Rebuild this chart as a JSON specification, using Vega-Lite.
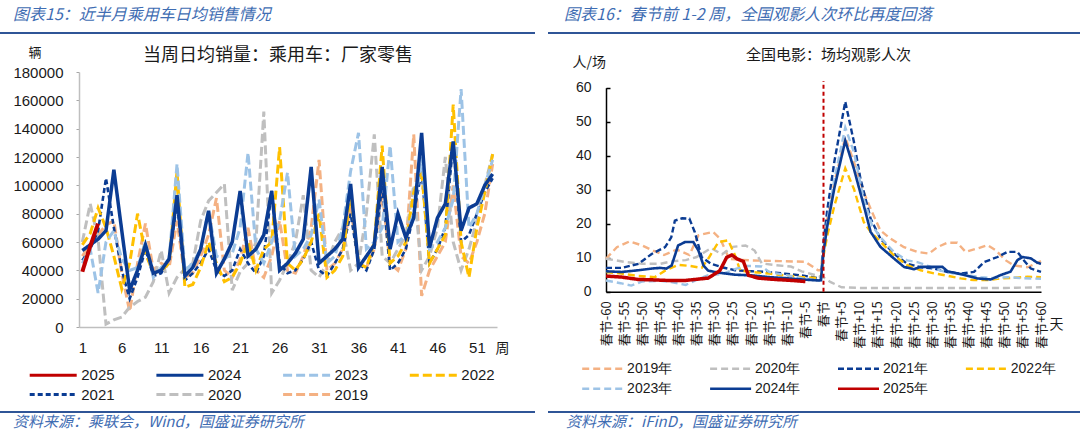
{
  "$schema": "https://vega.github.io/schema/vega-lite/v6.json",
  "background": "#ffffff",
  "padding": {"left": 0, "right": 0, "top": 7, "bottom": 0},
  "config": {
    "view": {"stroke": null},
    "font": "Noto Sans CJK SC",
    "title": {"fontWeight": "normal"},
    "axis": {"grid": false}
  },
  "spacing": 7,
  "resolve": {"scale": {"color": "independent", "strokeDash": "independent"}},
  "vconcat": [
    {
      "spacing": 12,
      "resolve": {"scale": {"color": "independent", "strokeDash": "independent"}},
      "vconcat": [
        {
          "spacing": 13,
          "hconcat": [
            {
              "width": 535, "height": 2,
              "data": {"values": [{"part": "header"}]},
              "mark": {"type": "rect", "color": "#2F5597"},
              "title": {"text": "图表15：近半月乘用车日均销售情况", "anchor": "start", "dx": 13, "offset": 9, "fontSize": 16, "fontStyle": "italic", "color": "#3F6DB3"}
            },
            {
              "width": 532, "height": 2,
              "data": {"values": [{"part": "header"}]},
              "mark": {"type": "rect", "color": "#2F5597"},
              "title": {"text": "图表16：春节前 1-2 周，全国观影人次环比再度回落", "anchor": "start", "dx": 16, "offset": 9, "fontSize": 16, "fontStyle": "italic", "color": "#3F6DB3"}
            }
          ]
        },
        {
          "spacing": 11,
          "resolve": {"scale": {"color": "independent", "strokeDash": "independent"}},
          "hconcat": [
            {
              "width": 1, "height": 1,
              "data": {"values": []},
              "mark": {"type": "rect"}
            },
            {
              "spacing": 63,
              "resolve": {"scale": {"color": "independent", "strokeDash": "independent"}},
              "hconcat": [
                {
                  "width": 418, "height": 255,
                  "title": {"text": "当周日均销量：乘用车：厂家零售", "fontSize": 18, "color": "#1A1A1A", "anchor": "middle", "dx": -10, "offset": -19},
                  "data": {"values": [
                    {"week": 1, "2019": 50000, "2020": 60000, "2021": 47000, "2022": 58000, "2023": 45000, "2024": 54000, "2025": 39000},
                    {"week": 2, "2019": 58000, "2020": 87000, "2021": 55000, "2022": 66000, "2023": 55000, "2024": 58000, "2025": 57000},
                    {"week": 3, "2019": 65000, "2020": 62000, "2021": 68000, "2022": 84000, "2023": 24000, "2024": 62000, "2025": 73000},
                    {"week": 4, "2019": 72000, "2020": 2000, "2021": 105000, "2022": 70000, "2023": 60000, "2024": 68000},
                    {"week": 5, "2019": 75000, "2020": 5000, "2021": 70000, "2022": 50000, "2023": 68000, "2024": 111000},
                    {"week": 6, "2019": 38000, "2020": 7000, "2021": 40000, "2022": 27000, "2023": 48000, "2024": 68000},
                    {"week": 7, "2019": 11000, "2020": 14000, "2021": 20000, "2022": 45000, "2023": 40000, "2024": 26000},
                    {"week": 8, "2019": 45000, "2020": 18000, "2021": 35000, "2022": 80000, "2023": 42000, "2024": 40000},
                    {"week": 9, "2019": 73000, "2020": 21000, "2021": 55000, "2022": 52000, "2023": 60000, "2024": 58000},
                    {"week": 10, "2019": 40000, "2020": 32000, "2021": 36000, "2022": 38000, "2023": 35000, "2024": 38000},
                    {"week": 11, "2019": 45000, "2020": 54000, "2021": 38000, "2022": 40000, "2023": 42000, "2024": 40000},
                    {"week": 12, "2019": 42000, "2020": 24000, "2021": 48000, "2022": 45000, "2023": 48000, "2024": 48000},
                    {"week": 13, "2019": 75000, "2020": 35000, "2021": 88000, "2022": 110000, "2023": 115000, "2024": 93000},
                    {"week": 14, "2019": 35000, "2020": 41000, "2021": 33000, "2022": 28000, "2023": 40000, "2024": 36000},
                    {"week": 15, "2019": 38000, "2020": 45000, "2021": 38000, "2022": 30000, "2023": 45000, "2024": 42000},
                    {"week": 16, "2019": 50000, "2020": 75000, "2021": 45000, "2022": 42000, "2023": 55000, "2024": 55000},
                    {"week": 17, "2019": 65000, "2020": 89000, "2021": 55000, "2022": 60000, "2023": 82000, "2024": 82000},
                    {"week": 18, "2019": 91000, "2020": 95000, "2021": 40000, "2022": 45000, "2023": 50000, "2024": 38000},
                    {"week": 19, "2019": 40000, "2020": 101000, "2021": 36000, "2022": 32000, "2023": 48000, "2024": 48000},
                    {"week": 20, "2019": 35000, "2020": 26000, "2021": 40000, "2022": 35000, "2023": 52000, "2024": 60000},
                    {"week": 21, "2019": 48000, "2020": 39000, "2021": 55000, "2022": 45000, "2023": 70000, "2024": 96000},
                    {"week": 22, "2019": 70000, "2020": 45000, "2021": 45000, "2022": 60000, "2023": 123000, "2024": 50000},
                    {"week": 23, "2019": 40000, "2020": 60000, "2021": 38000, "2022": 40000, "2023": 55000, "2024": 55000},
                    {"week": 24, "2019": 35000, "2020": 152000, "2021": 50000, "2022": 55000, "2023": 45000, "2024": 65000},
                    {"week": 25, "2019": 50000, "2020": 24000, "2021": 96000, "2022": 60000, "2023": 60000, "2024": 96000},
                    {"week": 26, "2019": 75000, "2020": 33000, "2021": 45000, "2022": 127000, "2023": 75000, "2024": 40000},
                    {"week": 27, "2019": 40000, "2020": 45000, "2021": 38000, "2022": 45000, "2023": 109000, "2024": 45000},
                    {"week": 28, "2019": 38000, "2020": 60000, "2021": 40000, "2022": 40000, "2023": 50000, "2024": 52000},
                    {"week": 29, "2019": 50000, "2020": 93000, "2021": 48000, "2022": 48000, "2023": 55000, "2024": 62000},
                    {"week": 30, "2019": 70000, "2020": 40000, "2021": 60000, "2022": 60000, "2023": 65000, "2024": 113000},
                    {"week": 31, "2019": 118000, "2020": 35000, "2021": 40000, "2022": 80000, "2023": 90000, "2024": 45000},
                    {"week": 32, "2019": 40000, "2020": 45000, "2021": 36000, "2022": 35000, "2023": 45000, "2024": 50000},
                    {"week": 33, "2019": 45000, "2020": 60000, "2021": 45000, "2022": 40000, "2023": 50000, "2024": 55000},
                    {"week": 34, "2019": 55000, "2020": 70000, "2021": 55000, "2022": 50000, "2023": 70000, "2024": 62000},
                    {"week": 35, "2019": 85000, "2020": 40000, "2021": 80000, "2022": 95000, "2023": 110000, "2024": 101000},
                    {"week": 36, "2019": 45000, "2020": 45000, "2021": 45000, "2022": 45000, "2023": 137000, "2024": 42000},
                    {"week": 37, "2019": 42000, "2020": 80000, "2021": 40000, "2022": 42000, "2023": 55000, "2024": 50000},
                    {"week": 38, "2019": 55000, "2020": 136000, "2021": 55000, "2022": 60000, "2023": 60000, "2024": 58000},
                    {"week": 39, "2019": 95000, "2020": 50000, "2021": 100000, "2022": 128000, "2023": 70000, "2024": 113000},
                    {"week": 40, "2019": 45000, "2020": 45000, "2021": 40000, "2022": 45000, "2023": 128000, "2024": 55000},
                    {"week": 41, "2019": 40000, "2020": 55000, "2021": 45000, "2022": 50000, "2023": 60000, "2024": 80000},
                    {"week": 42, "2019": 55000, "2020": 65000, "2021": 55000, "2022": 60000, "2023": 65000, "2024": 63000},
                    {"week": 43, "2019": 136000, "2020": 100000, "2021": 80000, "2022": 95000, "2023": 80000, "2024": 77000},
                    {"week": 44, "2019": 22000, "2020": 40000, "2021": 110000, "2022": 110000, "2023": 120000, "2024": 137000},
                    {"week": 45, "2019": 40000, "2020": 50000, "2021": 45000, "2022": 45000, "2023": 55000, "2024": 56000},
                    {"week": 46, "2019": 50000, "2020": 70000, "2021": 55000, "2022": 55000, "2023": 60000, "2024": 77000},
                    {"week": 47, "2019": 60000, "2020": 120000, "2021": 70000, "2022": 65000, "2023": 70000, "2024": 87000},
                    {"week": 48, "2019": 100000, "2020": 60000, "2021": 130000, "2022": 157000, "2023": 90000, "2024": 131000},
                    {"week": 49, "2019": 50000, "2020": 40000, "2021": 60000, "2022": 60000, "2023": 168000, "2024": 68000},
                    {"week": 50, "2019": 45000, "2020": 55000, "2021": 65000, "2022": 35000, "2023": 70000, "2024": 84000},
                    {"week": 51, "2019": 60000, "2020": 75000, "2021": 80000, "2022": 70000, "2023": 80000, "2024": 87000},
                    {"week": 52, "2019": 80000, "2020": 100000, "2021": 95000, "2022": 95000, "2023": 100000, "2024": 100000},
                    {"week": 53, "2019": 115000, "2020": 122000, "2021": 105000, "2022": 122000, "2023": 118000, "2024": 108000}
                  ]},
                  "transform": [
                    {"fold": ["2019", "2020", "2021", "2022", "2023", "2024", "2025"], "as": ["year", "sales"]},
                    {"filter": "isValid(datum.sales)"}
                  ],
                  "mark": {"type": "line"},
                  "encoding": {
                    "x": {
                      "field": "week", "type": "quantitative",
                      "scale": {"domain": [0.58, 53.55], "nice": false, "zero": false},
                      "axis": {
                        "values": [1, 6, 11, 16, 21, 26, 31, 36, 41, 46, 51],
                        "ticks": false, "domainColor": "#BFBFBF", "domainWidth": 1.5,
                        "labelFont": "Liberation Sans", "labelFontSize": 15, "labelColor": "#1A1A1A",
                        "labelPadding": 13, "labelFlush": false, "labelOverlap": false,
                        "title": "周", "titleFontSize": 14, "titleFontWeight": "normal", "titleColor": "#1A1A1A",
                        "titleAngle": 0, "titleAlign": "center", "titleBaseline": "middle", "titleX": 423, "titleY": 21
                      }
                    },
                    "y": {
                      "field": "sales", "type": "quantitative",
                      "scale": {"domain": [0, 180000], "nice": false},
                      "axis": {
                        "values": [0, 20000, 40000, 60000, 80000, 100000, 120000, 140000, 160000, 180000],
                        "format": "d", "tickSize": 3, "tickColor": "#A6A6A6",
                        "domainColor": "#BFBFBF", "domainWidth": 1.5,
                        "labelFont": "Liberation Sans", "labelFontSize": 15, "labelColor": "#1A1A1A",
                        "labelPadding": 13, "labelFlush": false, "labelOverlap": false,
                        "title": "辆", "titleFontSize": 13, "titleFontWeight": "normal", "titleColor": "#1A1A1A",
                        "titleAngle": 0, "titleAlign": "left", "titleBaseline": "middle", "titleX": -51, "titleY": -20
                      }
                    },
                    "color": {
                      "field": "year", "type": "nominal",
                      "scale": {
                        "domain": ["2025", "2024", "2023", "2022", "2021", "2020", "2019"],
                        "range": ["#C00000", "#0B3C93", "#9DC3E6", "#FFC000", "#0B3C93", "#BFBFBF", "#F4B183"]
                      },
                      "legend": {
                        "orient": "none", "legendX": -33.3, "legendY": 295.5, "direction": "horizontal", "columns": 4,
                        "title": null, "symbolType": "M-4.7,0H4.7", "symbolSize": 100, "symbolStrokeWidth": 3,
                        "labelFont": "Liberation Sans", "labelFontSize": 15, "labelColor": "#1A1A1A", "labelOffset": 20.5,
                        "columnPadding": 35.7, "rowPadding": 3.6, "gridAlign": "all", "padding": 0
                      }
                    },
                    "strokeDash": {
                      "field": "year", "type": "nominal",
                      "scale": {
                        "domain": ["2025", "2024", "2023", "2022", "2021", "2020", "2019"],
                        "range": [[1, 0], [1, 0], [9, 4], [9, 4], [5, 3], [9, 4], [9, 4]]
                      }
                    },
                    "strokeWidth": {
                      "condition": [
                        {"test": "datum.year == '2025'", "value": 4},
                        {"test": "datum.year == '2024'", "value": 3.5},
                        {"test": "datum.year == '2021'", "value": 2.6}
                      ],
                      "value": 3
                    }
                  }
                },
                {
                  "width": 435, "height": 219.7,
                  "title": {"text": "全国电影：场均观影人次", "fontSize": 15, "color": "#1A1A1A", "anchor": "middle", "dx": 5, "offset": -7},
                  "resolve": {"axis": {"x": "independent", "y": "independent"}},
                  "layer": [
                    {
                      "data": {"values": [
                        {"s": "2019年", "d": -60, "v": 9.7}, {"s": "2019年", "d": -57, "v": 13.1}, {"s": "2019年", "d": -53.5, "v": 14.8}, {"s": "2019年", "d": -50, "v": 13.6},
                        {"s": "2019年", "d": -47, "v": 12.1}, {"s": "2019年", "d": -44, "v": 10.8}, {"s": "2019年", "d": -40.5, "v": 12.4}, {"s": "2019年", "d": -37, "v": 10.8},
                        {"s": "2019年", "d": -34.5, "v": 16.6}, {"s": "2019年", "d": -30.5, "v": 17.6}, {"s": "2019年", "d": -28.5, "v": 15.6}, {"s": "2019年", "d": -26, "v": 9.6},
                        {"s": "2019年", "d": -20, "v": 9.2}, {"s": "2019年", "d": -12, "v": 9.0}, {"s": "2019年", "d": -5, "v": 8.8}, {"s": "2019年", "d": -1.5, "v": 6.3},
                        {"s": "2019年", "d": -0.7, "v": 6.3}, {"s": "2019年", "d": 0, "v": 14.1}, {"s": "2019年", "d": 1, "v": 21.2}, {"s": "2019年", "d": 3, "v": 32.1},
                        {"s": "2019年", "d": 6, "v": 45.4}, {"s": "2019年", "d": 8.4, "v": 38.1}, {"s": "2019年", "d": 11.1, "v": 29.3}, {"s": "2019年", "d": 13.4, "v": 23.4},
                        {"s": "2019年", "d": 15.7, "v": 18.0}, {"s": "2019年", "d": 18.5, "v": 15.6}, {"s": "2019年", "d": 22.2, "v": 13.1}, {"s": "2019年", "d": 25.9, "v": 11.7},
                        {"s": "2019年", "d": 29.1, "v": 11.2}, {"s": "2019年", "d": 31.4, "v": 13.1}, {"s": "2019年", "d": 34.2, "v": 14.4}, {"s": "2019年", "d": 36.9, "v": 14.4},
                        {"s": "2019年", "d": 39.2, "v": 11.7}, {"s": "2019年", "d": 42.4, "v": 12.7}, {"s": "2019年", "d": 45.2, "v": 13.7}, {"s": "2019年", "d": 47.5, "v": 12.2},
                        {"s": "2019年", "d": 50.3, "v": 9.2}, {"s": "2019年", "d": 52.6, "v": 7.7}, {"s": "2019年", "d": 56.3, "v": 7.2}, {"s": "2019年", "d": 60, "v": 9.0},

                        {"s": "2020年", "d": -60, "v": 9.7}, {"s": "2020年", "d": -55, "v": 8.8}, {"s": "2020年", "d": -50, "v": 8.2}, {"s": "2020年", "d": -45, "v": 8.2},
                        {"s": "2020年", "d": -42, "v": 8.9}, {"s": "2020年", "d": -38, "v": 9.3}, {"s": "2020年", "d": -35, "v": 10.2}, {"s": "2020年", "d": -31, "v": 12.8},
                        {"s": "2020年", "d": -28, "v": 11.0}, {"s": "2020年", "d": -25, "v": 13.2}, {"s": "2020年", "d": -21.5, "v": 13.6}, {"s": "2020年", "d": -19, "v": 12.1},
                        {"s": "2020年", "d": -17, "v": 8.3}, {"s": "2020年", "d": -13, "v": 7.8}, {"s": "2020年", "d": -9, "v": 7.4}, {"s": "2020年", "d": -6, "v": 6.0},
                        {"s": "2020年", "d": -2, "v": 4.8}, {"s": "2020年", "d": 0, "v": 4.2}, {"s": "2020年", "d": 2, "v": 2.8}, {"s": "2020年", "d": 5, "v": 1.3},
                        {"s": "2020年", "d": 10, "v": 1.1}, {"s": "2020年", "d": 20, "v": 1.1}, {"s": "2020年", "d": 30, "v": 1.1}, {"s": "2020年", "d": 40, "v": 1.1},
                        {"s": "2020年", "d": 50, "v": 1.1}, {"s": "2020年", "d": 60, "v": 1.3},

                        {"s": "2021年", "d": -60, "v": 7.0}, {"s": "2021年", "d": -55.7, "v": 7.0}, {"s": "2021年", "d": -51, "v": 8.2}, {"s": "2021年", "d": -47.4, "v": 11.1},
                        {"s": "2021年", "d": -43.7, "v": 13.1}, {"s": "2021年", "d": -42, "v": 16}, {"s": "2021年", "d": -41, "v": 20.9}, {"s": "2021年", "d": -39, "v": 21.6},
                        {"s": "2021年", "d": -37, "v": 21.5}, {"s": "2021年", "d": -35.5, "v": 17.5}, {"s": "2021年", "d": -33.6, "v": 10.2}, {"s": "2021年", "d": -31, "v": 8.2},
                        {"s": "2021年", "d": -28, "v": 7.2}, {"s": "2021年", "d": -24.4, "v": 6.3}, {"s": "2021年", "d": -19.8, "v": 6.0}, {"s": "2021年", "d": -15.2, "v": 5.8},
                        {"s": "2021年", "d": -10.6, "v": 5.3}, {"s": "2021年", "d": -6, "v": 4.8}, {"s": "2021年", "d": -1.4, "v": 4.0}, {"s": "2021年", "d": -0.7, "v": 4.0},
                        {"s": "2021年", "d": 0, "v": 14.4}, {"s": "2021年", "d": 1, "v": 23.7}, {"s": "2021年", "d": 3, "v": 38.3}, {"s": "2021年", "d": 6, "v": 55.9},
                        {"s": "2021年", "d": 8.4, "v": 44}, {"s": "2021年", "d": 10.2, "v": 33.2}, {"s": "2021年", "d": 13, "v": 21.5}, {"s": "2021年", "d": 15.7, "v": 15.6},
                        {"s": "2021年", "d": 19.4, "v": 11.2}, {"s": "2021年", "d": 23.1, "v": 8.2}, {"s": "2021年", "d": 26.8, "v": 7.2}, {"s": "2021年", "d": 30.5, "v": 6.8},
                        {"s": "2021年", "d": 34.2, "v": 5.8}, {"s": "2021年", "d": 37.8, "v": 5.3}, {"s": "2021年", "d": 41.5, "v": 5.8}, {"s": "2021年", "d": 44.3, "v": 8.7},
                        {"s": "2021年", "d": 48, "v": 10.2}, {"s": "2021年", "d": 50.7, "v": 11.7}, {"s": "2021年", "d": 53.5, "v": 11.7}, {"s": "2021年", "d": 55.3, "v": 9.2},
                        {"s": "2021年", "d": 57.2, "v": 6.8}, {"s": "2021年", "d": 60, "v": 5.8},

                        {"s": "2022年", "d": -60, "v": 5.8}, {"s": "2022年", "d": -55.7, "v": 5.3}, {"s": "2022年", "d": -51, "v": 4.6}, {"s": "2022年", "d": -46.5, "v": 4.3},
                        {"s": "2022年", "d": -43.7, "v": 6.2}, {"s": "2022年", "d": -40, "v": 7.9}, {"s": "2022年", "d": -37, "v": 7.6}, {"s": "2022年", "d": -33.6, "v": 7.0},
                        {"s": "2022年", "d": -31.8, "v": 9.7}, {"s": "2022年", "d": -29, "v": 14.6}, {"s": "2022年", "d": -26.3, "v": 15.1}, {"s": "2022年", "d": -24.4, "v": 10.7},
                        {"s": "2022年", "d": -23, "v": 6.2}, {"s": "2022年", "d": -19.8, "v": 5.8}, {"s": "2022年", "d": -15, "v": 5.3}, {"s": "2022年", "d": -10.6, "v": 4.8},
                        {"s": "2022年", "d": -6, "v": 4.3}, {"s": "2022年", "d": -1.5, "v": 4.0}, {"s": "2022年", "d": -0.7, "v": 4.0}, {"s": "2022年", "d": 0, "v": 10.5},
                        {"s": "2022年", "d": 1, "v": 16.3}, {"s": "2022年", "d": 3, "v": 25.3}, {"s": "2022年", "d": 6, "v": 36.3}, {"s": "2022年", "d": 8.4, "v": 30.2},
                        {"s": "2022年", "d": 11.1, "v": 20.5}, {"s": "2022年", "d": 13, "v": 17.6}, {"s": "2022年", "d": 15.7, "v": 14.7}, {"s": "2022年", "d": 19.4, "v": 10.7},
                        {"s": "2022年", "d": 23.1, "v": 7.8}, {"s": "2022年", "d": 26.8, "v": 6.3}, {"s": "2022年", "d": 30.5, "v": 5.4}, {"s": "2022年", "d": 34.2, "v": 4.7},
                        {"s": "2022年", "d": 37.8, "v": 3.9}, {"s": "2022年", "d": 41.5, "v": 3.4}, {"s": "2022年", "d": 45.2, "v": 3.4}, {"s": "2022年", "d": 48.9, "v": 3.9},
                        {"s": "2022年", "d": 52.6, "v": 4.1}, {"s": "2022年", "d": 56.3, "v": 4.4}, {"s": "2022年", "d": 60, "v": 4.3},

                        {"s": "2023年", "d": -60, "v": 3.3}, {"s": "2023年", "d": -56, "v": 2.5}, {"s": "2023年", "d": -53, "v": 1.8}, {"s": "2023年", "d": -50, "v": 3.0},
                        {"s": "2023年", "d": -45, "v": 3.2}, {"s": "2023年", "d": -42, "v": 2.8}, {"s": "2023年", "d": -38, "v": 2.0}, {"s": "2023年", "d": -35, "v": 3.5},
                        {"s": "2023年", "d": -32, "v": 4.8}, {"s": "2023年", "d": -28, "v": 5.2}, {"s": "2023年", "d": -24, "v": 6.8}, {"s": "2023年", "d": -21, "v": 7.6},
                        {"s": "2023年", "d": -17, "v": 7.4}, {"s": "2023年", "d": -15, "v": 5.8}, {"s": "2023年", "d": -10, "v": 4.8}, {"s": "2023年", "d": -6, "v": 4.0},
                        {"s": "2023年", "d": -1.5, "v": 3.3}, {"s": "2023年", "d": -0.7, "v": 3.3}, {"s": "2023年", "d": 0, "v": 12.3}, {"s": "2023年", "d": 1, "v": 20.4},
                        {"s": "2023年", "d": 3, "v": 33}, {"s": "2023年", "d": 6, "v": 48.3}, {"s": "2023年", "d": 8.4, "v": 41}, {"s": "2023年", "d": 11.1, "v": 27.3},
                        {"s": "2023年", "d": 13.4, "v": 19.5}, {"s": "2023年", "d": 15.7, "v": 16}, {"s": "2023年", "d": 19.4, "v": 11.7}, {"s": "2023年", "d": 23.1, "v": 9.2},
                        {"s": "2023年", "d": 25.9, "v": 8.7}, {"s": "2023年", "d": 28.6, "v": 7.7}, {"s": "2023年", "d": 32.3, "v": 6.2}, {"s": "2023年", "d": 36, "v": 5.3},
                        {"s": "2023年", "d": 39.7, "v": 4.8}, {"s": "2023年", "d": 43.4, "v": 4.3}, {"s": "2023年", "d": 47.1, "v": 4.0}, {"s": "2023年", "d": 50.7, "v": 4.3},
                        {"s": "2023年", "d": 54.4, "v": 4.0}, {"s": "2023年", "d": 60, "v": 3.8},

                        {"s": "2024年", "d": -60, "v": 6.0}, {"s": "2024年", "d": -55.7, "v": 5.8}, {"s": "2024年", "d": -51.1, "v": 6.3}, {"s": "2024年", "d": -47.4, "v": 6.8},
                        {"s": "2024年", "d": -45.1, "v": 7.0}, {"s": "2024年", "d": -43.3, "v": 6.8}, {"s": "2024年", "d": -41.9, "v": 7.7}, {"s": "2024年", "d": -40.1, "v": 13.6},
                        {"s": "2024年", "d": -38.2, "v": 14.6}, {"s": "2024年", "d": -35.9, "v": 14.6}, {"s": "2024年", "d": -34.5, "v": 12.1}, {"s": "2024年", "d": -33.1, "v": 7.7},
                        {"s": "2024年", "d": -31.8, "v": 6.2}, {"s": "2024年", "d": -29, "v": 5.6}, {"s": "2024年", "d": -24.4, "v": 5.0}, {"s": "2024年", "d": -19.8, "v": 4.8},
                        {"s": "2024年", "d": -15.2, "v": 4.3}, {"s": "2024年", "d": -10.6, "v": 4.0}, {"s": "2024年", "d": -6, "v": 3.6}, {"s": "2024年", "d": -1.4, "v": 3.3},
                        {"s": "2024年", "d": -0.7, "v": 3.4}, {"s": "2024年", "d": 0, "v": 11.6}, {"s": "2024年", "d": 1, "v": 19}, {"s": "2024年", "d": 3, "v": 30.5},
                        {"s": "2024年", "d": 6, "v": 44.4}, {"s": "2024年", "d": 8.4, "v": 36.1}, {"s": "2024年", "d": 11.1, "v": 25.4}, {"s": "2024年", "d": 13, "v": 17.6},
                        {"s": "2024年", "d": 15.7, "v": 13.2}, {"s": "2024年", "d": 19.4, "v": 9.8}, {"s": "2024年", "d": 22.2, "v": 7.3}, {"s": "2024年", "d": 24.9, "v": 6.6},
                        {"s": "2024年", "d": 26.8, "v": 7.3}, {"s": "2024年", "d": 29.5, "v": 7.3}, {"s": "2024年", "d": 32.8, "v": 7.3}, {"s": "2024年", "d": 34.2, "v": 6.0},
                        {"s": "2024年", "d": 36.9, "v": 5.4}, {"s": "2024年", "d": 39.7, "v": 4.7}, {"s": "2024年", "d": 42.4, "v": 3.9}, {"s": "2024年", "d": 46.1, "v": 3.6},
                        {"s": "2024年", "d": 48.9, "v": 4.9}, {"s": "2024年", "d": 51.6, "v": 5.9}, {"s": "2024年", "d": 53.5, "v": 9.3}, {"s": "2024年", "d": 54.9, "v": 10.2},
                        {"s": "2024年", "d": 57.2, "v": 9.8}, {"s": "2024年", "d": 59, "v": 8.5}, {"s": "2024年", "d": 60, "v": 8.2},

                        {"s": "2025年", "d": -60, "v": 4.6}, {"s": "2025年", "d": -55.7, "v": 4.3}, {"s": "2025年", "d": -51.1, "v": 3.6}, {"s": "2025年", "d": -47.4, "v": 3.5},
                        {"s": "2025年", "d": -42.8, "v": 3.3}, {"s": "2025年", "d": -38.2, "v": 3.3}, {"s": "2025年", "d": -35.5, "v": 3.6}, {"s": "2025年", "d": -31.8, "v": 4.0},
                        {"s": "2025年", "d": -29.9, "v": 5.3}, {"s": "2025年", "d": -28.6, "v": 6.2}, {"s": "2025年", "d": -26.7, "v": 10.1}, {"s": "2025年", "d": -25.3, "v": 10.8},
                        {"s": "2025年", "d": -23.9, "v": 9.7}, {"s": "2025年", "d": -22.1, "v": 8.9}, {"s": "2025年", "d": -20.7, "v": 4.8}, {"s": "2025年", "d": -18, "v": 4.0},
                        {"s": "2025年", "d": -13.4, "v": 3.6}, {"s": "2025年", "d": -8.7, "v": 3.3}, {"s": "2025年", "d": -5, "v": 3.0}
                      ]},
                      "mark": {"type": "line"},
                      "encoding": {
                        "x": {
                          "field": "d", "type": "quantitative",
                          "scale": {"domain": [-60, 60], "nice": false, "zero": false},
                          "axis": {
                            "values": [-60, -55, -50, -45, -40, -35, -30, -25, -20, -15, -10, -5, 0, 5, 10, 15, 20, 25, 30, 35, 40, 45, 50, 55, 60],
                            "labelExpr": "datum.value == 0 ? '春节' : (datum.value > 0 ? '春节+' + datum.value : '春节' + datum.value)",
                            "labelAngle": 270, "labelAlign": "right", "labelBaseline": "middle",
                            "labelFontSize": 13, "labelColor": "#1A1A1A", "labelPadding": 9,
                            "labelOverlap": false, "labelFlush": false, "ticks": false,
                            "domainColor": "#000000", "domainWidth": 1.5,
                            "title": "天", "titleFontSize": 14, "titleFontWeight": "normal", "titleColor": "#1A1A1A",
                            "titleAngle": 0, "titleAlign": "center", "titleBaseline": "middle", "titleX": 450, "titleY": 33
                          }
                        },
                        "y": {
                          "field": "v", "type": "quantitative",
                          "scale": {"domain": [0, 60], "nice": false, "range": [219.7, 15.7]},
                          "axis": {
                            "values": [0, 10, 20, 30, 40, 50, 60],
                            "tickSize": -4, "tickColor": "#000000", "tickWidth": 1.5,
                            "domainColor": "#000000", "domainWidth": 1.5,
                            "labelFont": "Liberation Sans", "labelFontSize": 14, "labelColor": "#1A1A1A",
                            "labelPadding": 19, "labelFlush": false, "labelOverlap": false,
                            "title": "人/场", "titleFontSize": 14, "titleFontWeight": "normal", "titleColor": "#1A1A1A",
                            "titleAngle": 0, "titleAlign": "left", "titleBaseline": "middle", "titleX": -34, "titleY": -9.3
                          }
                        },
                        "color": {
                          "field": "s", "type": "nominal",
                          "scale": {
                            "domain": ["2019年", "2020年", "2021年", "2022年", "2023年", "2024年", "2025年"],
                            "range": ["#F4B183", "#BFBFBF", "#0B3C93", "#FFC000", "#9DC3E6", "#0B3C93", "#C00000"]
                          },
                          "legend": {
                            "orient": "none", "legendX": -10.3, "legendY": 289.7, "direction": "horizontal", "columns": 4,
                            "title": null, "symbolType": "M-4.1,0H4.1", "symbolSize": 100, "symbolStrokeWidth": 2.5,
                            "labelFont": "Liberation Sans", "labelFontSize": 14, "labelColor": "#1A1A1A", "labelOffset": 17.4,
                            "columnPadding": 31.9, "rowPadding": 6, "gridAlign": "all", "padding": 0
                          }
                        },
                        "strokeDash": {
                          "field": "s", "type": "nominal",
                          "scale": {
                            "domain": ["2019年", "2020年", "2021年", "2022年", "2023年", "2024年", "2025年"],
                            "range": [[7, 4], [7, 4], [6, 3], [7, 4], [7, 4], [1, 0], [1, 0]]
                          }
                        },
                        "strokeWidth": {
                          "condition": [
                            {"test": "datum.s == '2025年'", "value": 3.5},
                            {"test": "datum.s == '2024年'", "value": 2.6}
                          ],
                          "value": 2.4
                        }
                      }
                    },
                    {
                      "data": {"values": [{"festival": "春节"}]},
                      "mark": {"type": "rule", "color": "#C00000", "strokeWidth": 2, "strokeDash": [4, 3]},
                      "encoding": {
                        "x": {"datum": 0, "axis": null},
                        "y": {"datum": 0, "axis": null},
                        "y2": {"datum": 62}
                      }
                    }
                  ]
                }
              ]
            }
          ]
        }
      ]
    },
    {
      "spacing": 13,
      "hconcat": [
        {
          "width": 535, "height": 2,
          "data": {"values": [{"part": "footer"}]},
          "mark": {"type": "rect", "color": "#2F5597"},
          "title": {"text": "资料来源：乘联会，Wind，国盛证券研究所", "orient": "bottom", "anchor": "start", "dx": 13, "offset": 2, "fontSize": 15, "fontStyle": "italic", "color": "#3F6DB3"}
        },
        {
          "width": 532, "height": 2,
          "data": {"values": [{"part": "footer"}]},
          "mark": {"type": "rect", "color": "#2F5597"},
          "title": {"text": "资料来源：iFinD，国盛证券研究所", "orient": "bottom", "anchor": "start", "dx": 18, "offset": 2, "fontSize": 15, "fontStyle": "italic", "color": "#3F6DB3"}
        }
      ]
    }
  ]
}
